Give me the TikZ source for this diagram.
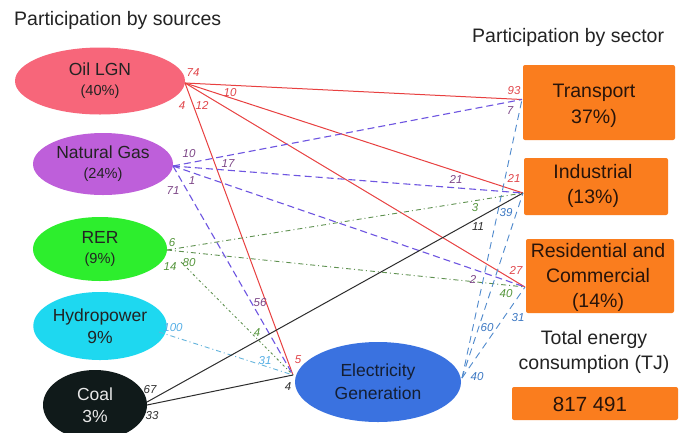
\documentclass[tikz,border=0pt]{standalone}
\usepackage{fontspec}
\setmainfont{Liberation Sans}
\usetikzlibrary{shapes.geometric}
\definecolor{oilc}{RGB}{247,102,122}
\definecolor{gasc}{RGB}{190,95,218}
\definecolor{rerc}{RGB}{45,238,45}
\definecolor{hydc}{RGB}{30,216,240}
\definecolor{coalc}{RGB}{16,26,26}
\definecolor{elecc}{RGB}{58,114,224}
\definecolor{orng}{RGB}{250,125,30}
\definecolor{oilL}{RGB}{232,64,64}
\definecolor{oilT}{RGB}{225,70,75}
\definecolor{gasL}{RGB}{110,85,225}
\definecolor{gasT}{RGB}{125,70,135}
\definecolor{rerL}{RGB}{95,145,80}
\definecolor{rerT}{RGB}{85,150,60}
\definecolor{hydL}{RGB}{100,180,220}
\definecolor{hydT}{RGB}{85,175,230}
\definecolor{coalL}{RGB}{45,45,45}
\definecolor{elecL}{RGB}{80,138,205}
\definecolor{elecT}{RGB}{60,120,195}
\definecolor{txt}{RGB}{35,35,35}
\definecolor{boxtxt}{RGB}{40,20,10}
\begin{document}
\begin{tikzpicture}[x=1pt,y=-1pt,
  src/.style={ellipse, inner sep=0pt, align=center, text=txt,
    font=\fontsize{17.5}{20}\selectfont},
  sect/.style={fill=orng, rounded corners=2pt, inner sep=0pt, align=center,
    text=boxtxt, font=\fontsize{19.5}{25}\selectfont},
  ttl/.style={inner sep=0pt, text=txt, font=\fontsize{19.5}{25}\selectfont},
  lab/.style={font=\fontsize{11.5}{12}\selectfont\itshape, inner sep=0pt},
  oilline/.style={draw=oilL, line width=1pt},
  gasline/.style={draw=gasL, line width=1.1pt, dash pattern=on 7pt off 4pt},
  rerline/.style={draw=rerL, line width=0.9pt, dash pattern=on 5pt off 3pt on 1pt off 3pt},
  rerdot/.style={draw=rerL, line width=0.9pt, dash pattern=on 2.5pt off 2.5pt on 1pt off 2.5pt},
  hydline/.style={draw=hydL, line width=0.9pt, dash pattern=on 5pt off 3pt on 1pt off 3pt},
  coalline/.style={draw=coalL, line width=1pt},
  elecline/.style={draw=elecL, line width=0.9pt, dash pattern=on 7pt off 5pt},
]
\useasboundingbox (0,0) rectangle (682,432);
\fill[white] (0,0) rectangle (682,432);

% titles
\node[ttl, anchor=west] (t1) at (14,20) {Participation by sources};
\node[ttl, anchor=west] (t2) at (472,37) {Participation by sector};

% sources
\node[src, fill=oilc, minimum width=170pt, minimum height=67pt] (oil) at (100,81)
  {Oil LGN\\{\fontsize{14.6}{20}\selectfont (40\%)}};
\node[src, fill=gasc, minimum width=140pt, minimum height=62pt] (gas) at (103,164)
  {Natural Gas\\{\fontsize{14.6}{20}\selectfont (24\%)}};
\node[src, fill=rerc, minimum width=134pt, minimum height=64pt] (rer) at (100,249)
  {RER\\{\fontsize{14.6}{20}\selectfont (9\%)}};
\node[src, fill=hydc, minimum width=116pt, minimum height=68pt,
  font=\fontsize{17.5}{22.5}\selectfont] (hyd) at (100,326)
  {Hydropower\\9\%};
\node[src, fill=coalc, minimum width=104pt, minimum height=70pt, text={rgb,255:red,232;green,232;blue,232},
  font=\fontsize{17.5}{22}\selectfont] (coal) at (95,405)
  {Coal\\3\%};
\node[src, fill=elecc, minimum width=166pt, minimum height=80pt,
  font=\fontsize{17.5}{23}\selectfont, text={rgb,255:red,20;green,30;blue,50}] (elec) at (378,382)
  {Electricity\\Generation};

% sectors
\node[sect, minimum width=152pt, minimum height=75pt] (tra) at (599,102.5) {};
\node[sect, font=\fontsize{19.5}{26}\selectfont] (traT) at (594,106) {Transport\\37\%)};
\node[sect, minimum width=144pt, minimum height=57pt] (ind) at (596,186.5) {};
\node[sect] (indT) at (593,186) {Industrial\\(13\%)};
\node[sect, minimum width=148pt, minimum height=74pt] (res) at (600,276) {};
\node[sect] (resT) at (598,277) {Residential and\\Commercial\\(14\%)};
\node[ttl, align=center] (tot) at (594,352) {Total energy\\consumption (TJ)};
\node[sect, minimum width=166pt, minimum height=33pt] (totb) at (595,403.5) {};
\node[sect, font=\fontsize{20.5}{25}\selectfont] (totT) at (590,404) {817 491};

% ports
\coordinate (oP) at (185,83);
\coordinate (gP) at (173,166);
\coordinate (rP) at (167,250);
\coordinate (rP2) at (181,262);
\coordinate (hP) at (159,332);
\coordinate (cP1) at (147,402);
\coordinate (cP2) at (147,405);
\coordinate (eW) at (293,375);
\coordinate (eE) at (462,378);
\coordinate (tW) at (522,99.5);
\coordinate (iW) at (523,193);
\coordinate (rW) at (525,287);

% oil
\draw[oilline] (oP) -- (tW);
\draw[oilline] (oP) -- (iW);
\draw[oilline] (oP) -- (rW);
\draw[oilline] (oP) -- (eW);
% gas
\draw[gasline] (gP) -- (tW);
\draw[gasline] (gP) -- (iW);
\draw[gasline] (gP) -- (rW);
\draw[gasline] (gP) -- (eW);
% rer
\draw[rerline] (rP) -- (iW);
\draw[rerline] (rP) -- (rW);
\draw[rerdot] (rP2) -- (eW);
% hydro
\draw[hydline] (hP) -- (eW);
% coal
\draw[coalline] (cP1) -- (iW);
\draw[coalline] (cP2) -- (eW);
% electricity
\draw[elecline] (eE) -- (tW);
\draw[elecline] (eE) -- (iW);
\draw[elecline] (eE) -- (rW);

% labels oil
\begin{scope}[every node/.style={lab, text=oilT}]
\node (l1) at (193,73) {74};
\node (l2) at (230,93) {10};
\node (l3) at (182,106) {4};
\node (l4) at (202,105) {12};
\node (l5) at (514,91) {93};
\node (l6) at (514,178) {21};
\node (l7) at (516,270) {27};
\node (l8) at (298,360) {5};
\end{scope}
\begin{scope}[every node/.style={lab, text=gasT}]
\node (g1) at (189,154) {10};
\node (g2) at (228,164) {17};
\node (g3) at (192,181) {1};
\node (g4) at (173,191) {71};
\node (g5) at (510,111) {7};
\node (g6) at (456,179) {21};
\node (g7) at (473,279) {2};
\node (g8) at (260,303) {56};
\end{scope}
\begin{scope}[every node/.style={lab, text=rerT}]
\node (r1) at (172,243) {6};
\node (r2) at (189,263) {80};
\node (r3) at (170,267) {14};
\node (r4) at (475,208) {3};
\node (r5) at (506,294) {40};
\node (r6) at (257,333) {4};
\end{scope}
\begin{scope}[every node/.style={lab, text=hydT}]
\node (h1) at (173,328) {100};
\node (h2) at (265,361) {31};
\end{scope}
\begin{scope}[every node/.style={lab, text=coalL}]
\node (c1) at (150,390) {67};
\node (c2) at (152,416) {33};
\node (c3) at (478,227) {11};
\node (c4) at (288,387) {4};
\end{scope}
\begin{scope}[every node/.style={lab, text=elecT}]
\node (e1) at (477,377) {40};
\node (e2) at (487,328) {60};
\node (e3) at (518,318) {31};
\node (e4) at (506,213) {39};
\end{scope}
\end{tikzpicture}
\end{document}
